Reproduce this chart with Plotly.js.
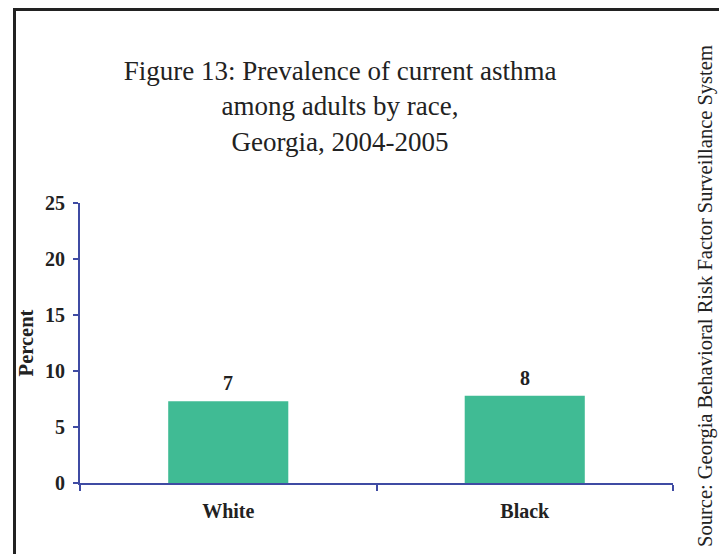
<!DOCTYPE html>
<html>
<head>
<meta charset="utf-8">
<script src="https://cdn.plot.ly/plotly-3.0.1.min.js"></script>
<style>
  html, body { margin: 0; padding: 0; background: #fff; }
  #wrap { position: relative; width: 719px; height: 554px; overflow: hidden; }
  #chart { position: absolute; left: 0; top: 0; width: 719px; height: 554px; }
  #frame { position: absolute; left: 13px; top: 8px; width: 800px; height: 700px;
           border-left: 3px solid #222; border-top: 3px solid #222; pointer-events: none; }
</style>
</head>
<body>
<div id="wrap">
  <div id="chart"></div>
  <div id="frame"></div>
</div>
<script>
// ---- data ----
const categories = ["White", "Black"];
const values = [7.3, 7.8];
const valueLabels = ["7", "8"];
const titleText = "Figure 13: Prevalence of current asthma<br>among adults by race,<br>Georgia, 2004-2005";
const yTitle = "Percent";
const sourceText = "Source: Georgia Behavioral Risk Factor Surveillance System";

// ---- styles ----
const serif = "Liberation Serif, Times New Roman, serif";
const axisBlue = "#3f4ba3";
const barGreen = "#40bb94";
const ink = "#222222";

const trace = {
  type: "bar",
  x: categories,
  y: values,
  marker: { color: barGreen, line: { width: 0 } },
  hoverinfo: "skip"
};

const annotations = categories.map((c, i) => ({
  x: c, y: values[i], xref: "x", yref: "y",
  text: valueLabels[i], showarrow: false,
  yanchor: "bottom", yshift: 5,
  font: { family: serif, size: 20, color: ink, weight: "bold" }
}));

annotations.push({
  xref: "paper", yref: "paper",
  x: 1.0556, y: 0.668,
  text: sourceText, showarrow: false, textangle: -90,
  xanchor: "center", yanchor: "middle",
  font: { family: serif, size: 20.5, color: ink }
});

const layout = {
  width: 719, height: 554,
  margin: { l: 80, r: 46, t: 203, b: 71 },
  paper_bgcolor: "rgba(0,0,0,0)",
  plot_bgcolor: "rgba(0,0,0,0)",
  showlegend: false,
  bargap: 0.595,
  title: {
    text: titleText,
    font: { family: serif, size: 27, color: ink },
    x: 0.473, xanchor: "center",
    y: 0.855, yanchor: "middle", yref: "container"
  },
  xaxis: {
    type: "category",
    showline: true, linecolor: axisBlue, linewidth: 2,
    ticks: "outside", tickson: "boundaries", ticklen: 6, tickwidth: 2, tickcolor: axisBlue,
    showgrid: false, zeroline: false,
    tickfont: { family: serif, size: 20, color: ink, weight: "bold" },
    ticklabelstandoff: 9
  },
  yaxis: {
    range: [0, 25], dtick: 5, tick0: 0,
    showline: true, linecolor: axisBlue, linewidth: 2,
    ticks: "outside", ticklen: 5, tickwidth: 2, tickcolor: axisBlue,
    showgrid: false, zeroline: false,
    tickfont: { family: serif, size: 20, color: ink, weight: "bold" },
    ticklabelstandoff: 4,
    title: { text: yTitle, font: { family: serif, size: 20.5, color: ink, weight: "bold" }, standoff: 6 }
  },
  annotations: annotations
};

Plotly.newPlot("chart", [trace], layout, { displayModeBar: false, staticPlot: true });
</script>
</body>
</html>
